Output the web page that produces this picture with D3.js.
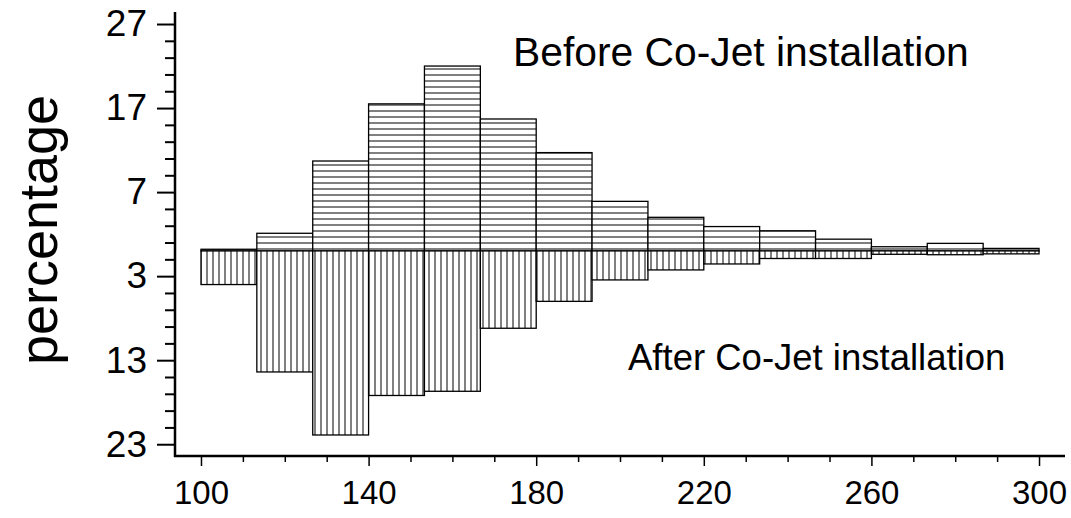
<!DOCTYPE html>
<html>
<head>
<meta charset="utf-8">
<script src="https://cdn.jsdelivr.net/npm/d3@7/dist/d3.min.js"></script>
<style>
  html, body { margin: 0; padding: 0; background: #fff; }
  svg { display: block; font-family: "Liberation Sans", Arial, sans-serif; }
</style>
</head>
<body>
<svg id="chart" width="1071" height="518"></svg>
<script>
// ---- data ----
const binLower = [100, 113.33, 126.67, 140, 153.33, 166.67, 180, 193.33, 206.67, 220, 233.33, 246.67, 260, 273.33, 286.67];
const binUpper = [113.33, 126.67, 140, 153.33, 166.67, 180, 193.33, 206.67, 220, 233.33, 246.67, 260, 273.33, 286.67, 300];
const beforeValues = [0.2, 2.1, 10.7, 17.5, 22.0, 15.7, 11.7, 5.9, 4.0, 2.9, 2.4, 1.4, 0.5, 0.9, 0.3];
const afterValues  = [4.0, 14.4, 21.9, 17.2, 16.7, 9.2, 6.0, 3.45, 2.26, 1.55, 0.9, 0.9, 0.4, 0.45, 0.35];
const xMajorTicks = [100, 140, 180, 220, 260, 300];
const xMinorTicks = [110, 120, 130, 150, 160, 170, 190, 200, 210, 230, 240, 250, 270, 280, 290];
const yMajorTicks = [27, 17, 7, -3, -13, -23];
const yMajorLabels = ["27", "17", "7", "3", "13", "23"];
const yMinorTicks = [25, 23, 21, 19, 15, 13, 11, 9, 5, 3, 1, -1, -5, -7, -9, -11, -15, -17, -19, -21];
const beforeLabel = "Before Co-Jet installation";
const afterLabel = "After Co-Jet installation";
const yTitle = "percentage";

// ---- scales ----
const svg = d3.select("#chart");
const x = d3.scaleLinear().domain([93.8, 306.2]).range([175, 1065]);
const y = d3.scaleLinear().domain([-24.4, 28.43]).range([456, 12]);

// ---- patterns ----
const defs = svg.append("defs");
const ph = defs.append("pattern").attr("id", "hatchH").attr("patternUnits", "userSpaceOnUse")
  .attr("width", 6).attr("height", 6);
ph.append("rect").attr("width", 6).attr("height", 6).attr("fill", "#fff");
ph.append("line").attr("x1", 0).attr("x2", 6).attr("y1", 3).attr("y2", 3)
  .attr("stroke", "#808080").attr("stroke-width", 2);
const pv = defs.append("pattern").attr("id", "hatchV").attr("patternUnits", "userSpaceOnUse")
  .attr("width", 6).attr("height", 6);
pv.append("rect").attr("width", 6).attr("height", 6).attr("fill", "#fff");
pv.append("line").attr("y1", 0).attr("y2", 6).attr("x1", 3).attr("x2", 3)
  .attr("stroke", "#808080").attr("stroke-width", 2);

// ---- bars ----
const bins = binLower.map((lo, i) => ({lo, hi: binUpper[i], b: beforeValues[i], a: afterValues[i]}));

svg.append("g").selectAll("rect").data(bins).join("rect")
  .attr("x", d => x(d.lo)).attr("width", d => x(d.hi) - x(d.lo))
  .attr("y", d => y(d.b)).attr("height", d => y(0) - y(d.b))
  .attr("fill", "url(#hatchH)").attr("stroke", "#000").attr("stroke-width", 1.3);

svg.append("g").selectAll("rect").data(bins).join("rect")
  .attr("x", d => x(d.lo)).attr("width", d => x(d.hi) - x(d.lo))
  .attr("y", y(0)).attr("height", d => y(-d.a) - y(0))
  .attr("fill", "url(#hatchV)").attr("stroke", "#000").attr("stroke-width", 1.3);

// ---- axes ----
const xAxisMajor = d3.axisBottom(x).tickValues(xMajorTicks).tickSize(10).tickPadding(15).tickFormat(d3.format("d"));
const gx = svg.append("g").attr("transform", "translate(0,456)").call(xAxisMajor);
gx.select(".domain").remove();
gx.selectAll(".tick line").attr("stroke-width", 1.5);
gx.selectAll("text").attr("font-size", 33).attr("fill", "#000").attr("font-family", "Liberation Sans, Arial, sans-serif");
const gxm = svg.append("g").attr("transform", "translate(0,456)")
  .call(d3.axisBottom(x).tickValues(xMinorTicks).tickSize(6).tickFormat(""));
gxm.select(".domain").remove();
gxm.selectAll(".tick line").attr("stroke-width", 1.5);

const yAxisMajor = d3.axisLeft(y).tickValues(yMajorTicks).tickSize(18).tickPadding(10)
  .tickFormat((d, i) => yMajorLabels[i]);
const gy = svg.append("g").attr("transform", "translate(175,0)").call(yAxisMajor);
gy.select(".domain").remove();
gy.selectAll(".tick line").attr("stroke-width", 2);
gy.selectAll("text").attr("font-size", 37).attr("fill", "#000").attr("font-family", "Liberation Sans, Arial, sans-serif");
const gym = svg.append("g").attr("transform", "translate(175,0)")
  .call(d3.axisLeft(y).tickValues(yMinorTicks).tickSize(10).tickFormat(""));
gym.select(".domain").remove();
gym.selectAll(".tick line").attr("stroke-width", 2);

// axis lines
svg.append("line").attr("x1", 175).attr("x2", 175).attr("y1", y.range()[1]).attr("y2", y.range()[0] + 1)
  .attr("stroke", "#000").attr("stroke-width", 2.5);
svg.append("line").attr("x1", 174).attr("x2", x.range()[1]).attr("y1", 456).attr("y2", 456)
  .attr("stroke", "#000").attr("stroke-width", 2.5);

// ---- labels ----
svg.append("text").attr("x", 513).attr("y", 66).attr("font-size", 40.8).attr("fill", "#000").text(beforeLabel);
svg.append("text").attr("x", 628).attr("y", 370).attr("font-size", 36.5).attr("fill", "#000").text(afterLabel);
svg.append("text").attr("transform", "translate(57,230) rotate(-90)").attr("text-anchor", "middle")
  .attr("font-size", 54).attr("fill", "#000").text(yTitle);
</script>
</body>
</html>
